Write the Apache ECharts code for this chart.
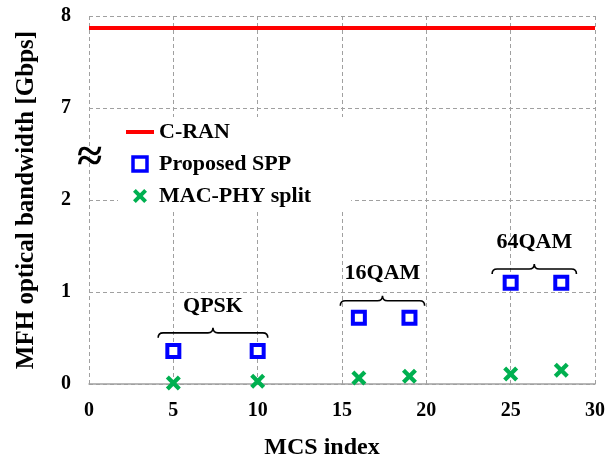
<!DOCTYPE html>
<html>
<head>
<meta charset="utf-8">
<script src="https://cdn.jsdelivr.net/npm/echarts@6/dist/echarts.min.js"></script>
<style>html,body{margin:0;padding:0;background:#fff;}#c{width:614px;height:456px;}</style>
</head>
<body>
<div id="c"></div>
<script>
// ---- data ----
const yTickLabels = ['0', '1', '2', '7', '8'];
const xTickLabels = ['0', '5', '10', '15', '20', '25', '30'];
const cranX = [0, 30];
const cranY = [7.87, 7.87];
const sppX = [5, 10, 16, 19, 25, 28];
const sppY = [0.36, 0.36, 0.72, 0.72, 1.10, 1.10];
const macX = [5, 10, 16, 19, 25, 28];
const macY = [0.01, 0.03, 0.065, 0.085, 0.11, 0.15];
const braceLabels = ['QPSK', '16QAM', '64QAM'];
const braceStart = [4.1, 14.9, 23.9];
const braceEnd = [10.6, 19.9, 28.9];
const braceY = [0.556, 0.905, 1.25];

// broken axis: 0..2 shown as-is, 7..8 shown directly above 2
function toAxis(v) { return v >= 7 ? v - 4 : v; }

const serif = 'Liberation Serif';
const gridColor = '#a0a0a0';
const crossPath = 'path://M0,2 L2,0 L5,3 L8,0 L10,2 L7,5 L10,8 L8,10 L5,7 L2,10 L0,8 L3,5 Z';

const chart = echarts.init(document.getElementById('c'));
chart.setOption({
  animation: false,
  backgroundColor: '#fff',
  grid: { left: 89, right: 19, top: 16, bottom: 72, outerBoundsMode: 'none', containLabel: false },
  xAxis: {
    type: 'value', min: 0, max: 30, interval: 5,
    name: 'MCS index', nameLocation: 'middle', nameGap: 52,
    nameTextStyle: { fontFamily: serif, fontWeight: 'bold', fontSize: 24, color: '#000', padding: [0, 40, 0, 0] },
    axisLine: { show: true, lineStyle: { color: gridColor, width: 1.5 } },
    axisTick: { show: false },
    axisLabel: { margin: 17, fontFamily: serif, fontWeight: 'bold', fontSize: 20, color: '#000',
      formatter: (v) => xTickLabels[Math.round(v / 5)] },
    splitLine: { show: true, lineStyle: { color: gridColor, type: [4, 3], width: 1 } }
  },
  yAxis: {
    type: 'value', min: 0, max: 4, interval: 1,
    name: 'MFH optical bandwidth [Gbps]', nameLocation: 'middle', nameGap: 50,
    nameTextStyle: { fontFamily: serif, fontWeight: 'bold', fontSize: 25, color: '#000' },
    axisLine: { show: false },
    axisTick: { show: false },
    axisLabel: { margin: 18, fontFamily: serif, fontWeight: 'bold', fontSize: 20, color: '#000',
      formatter: (v) => yTickLabels[Math.round(v)] },
    splitLine: { show: true, lineStyle: { color: gridColor, type: [4, 3], width: 1 } }
  },
  legend: {
    orient: 'vertical', left: 118, top: 117,
    padding: [4, 40, 4, 8], itemGap: 10,
    itemWidth: 28, itemHeight: 14,
    backgroundColor: '#fff',
    textStyle: { fontFamily: serif, fontWeight: 'bold', fontSize: 22, color: '#000' },
    data: [
      { name: 'C-RAN', icon: 'path://M0,0H28V4H0Z', itemStyle: { color: '#ff0000' } },
      { name: 'Proposed SPP', icon: 'path://M0,0H10V10H0Z',
        itemStyle: { color: '#fff', borderColor: '#0000ff', borderWidth: 3.5 } },
      { name: 'MAC-PHY split', icon: crossPath, itemStyle: { color: '#00b050' } }
    ]
  },
  series: [
    {
      name: 'C-RAN', type: 'line', symbol: 'none',
      lineStyle: { color: '#ff0000', width: 4 }, itemStyle: { color: '#ff0000' },
      data: cranX.map((x, i) => [x, toAxis(cranY[i])]), z: 3
    },
    {
      name: 'Proposed SPP', type: 'scatter', symbol: 'rect', symbolSize: 12,
      itemStyle: { color: '#fff', borderColor: '#0000ff', borderWidth: 4, opacity: 1 },
      data: sppX.map((x, i) => [x, toAxis(sppY[i])]), z: 4
    },
    {
      name: 'MAC-PHY split', type: 'scatter', symbol: crossPath, symbolSize: 15,
      itemStyle: { color: '#00b050', opacity: 1 },
      data: macX.map((x, i) => [x, toAxis(macY[i])]), z: 4
    },
    {
      name: 'braces', type: 'custom', silent: true, z: 5,
      data: braceLabels.map((l, i) => [braceStart[i], braceEnd[i], braceY[i], i]),
      renderItem: function (params, api) {
        const p1 = api.coord([api.value(0), api.value(2)]);
        const p2 = api.coord([api.value(1), api.value(2)]);
        const x1 = p1[0], x2 = p2[0], y = p1[1];
        const m = (x1 + x2) / 2;
        const h = 5, r = 5;
        const d = 'M' + x1 + ',' + (y + h) +
          ' Q' + x1 + ',' + y + ' ' + (x1 + r) + ',' + y +
          ' L' + (m - r) + ',' + y +
          ' Q' + m + ',' + y + ' ' + m + ',' + (y - h) +
          ' Q' + m + ',' + y + ' ' + (m + r) + ',' + y +
          ' L' + (x2 - r) + ',' + y +
          ' Q' + x2 + ',' + y + ' ' + x2 + ',' + (y + h);
        return {
          type: 'group',
          children: [
            { type: 'path', shape: { pathData: d }, style: { fill: null, stroke: '#000', lineWidth: 1.6 } },
            { type: 'text', x: m, y: y - 27,
              style: { text: braceLabels[api.value(3)], fontFamily: serif, fontWeight: 'bold', fontSize: 22,
                fill: '#000', align: 'center', verticalAlign: 'middle' } }
          ]
        };
      }
    }
  ],
  graphic: [
    { type: 'text', left: 77, top: 136, z: 100,
      style: { text: '≈', fontFamily: serif, fontWeight: 'bold', fontSize: 46, fill: '#000' } }
  ]
});
</script>
</body>
</html>
